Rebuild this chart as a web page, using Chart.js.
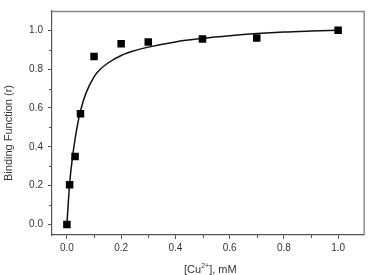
<!DOCTYPE html>
<html>
<head>
<meta charset="utf-8">
<script src="https://cdn.jsdelivr.net/npm/chart.js@4.4.1/dist/chart.umd.min.js"></script>
<style>
  html, body { margin: 0; padding: 0; background: #fff; }
  #wrap { width: 370px; height: 275px; position: relative; }
</style>
</head>
<body>
<div id="wrap"><canvas id="chart"></canvas></div>
<script>
  // ── Data ────────────────────────────────────────────────────────────────
  // Measured points: [Cu2+] (mM) vs binding function r
  const concMM  = [0, 0.01, 0.03, 0.05, 0.1, 0.2, 0.3, 0.5, 0.7, 1.0];
  const bindR   = [0, 0.205, 0.35, 0.57, 0.865, 0.93, 0.94, 0.955, 0.96, 1.0];

  // Fitted curve
  const fitX = [0, 0.005, 0.01, 0.02, 0.03, 0.04, 0.05, 0.07, 0.1, 0.12, 0.15,
                0.2, 0.25, 0.3, 0.4, 0.5, 0.6, 0.7, 0.8, 0.9, 1.0];
  const fitY = [0, 0.11, 0.21, 0.34, 0.44, 0.52, 0.585, 0.675, 0.76, 0.795, 0.83,
                0.87, 0.895, 0.913, 0.94, 0.958, 0.972, 0.983, 0.991, 0.996, 1.0];

  // Axis ticks
  const majorTicks = [0, 0.2, 0.4, 0.6, 0.8, 1.0];
  const minorTicks = [0.1, 0.3, 0.5, 0.7, 0.9];

  const FONT  = 'Liberation Sans, Arial, sans-serif';
  const AXIS  = '#555';
  const FRAME = '#888';
  const TEXT  = '#333';

  // ── Plugin: top/right frame, minor ticks, axis titles ──────────────────
  const decor = {
    id: 'decor',
    afterDraw(chart) {
      const { ctx, chartArea: a, scales } = chart;
      ctx.save();

      // frame (top + right)
      ctx.strokeStyle = FRAME;
      ctx.lineWidth = 1.4;
      ctx.beginPath();
      ctx.moveTo(a.left, a.top + 0.5);
      ctx.lineTo(a.right - 0.5, a.top + 0.5);
      ctx.lineTo(a.right - 0.5, a.bottom);
      ctx.stroke();

      // minor ticks, outward
      ctx.strokeStyle = AXIS;
      ctx.lineWidth = 1;
      ctx.beginPath();
      minorTicks.forEach(v => {
        const px = Math.round(scales.x.getPixelForValue(v)) + 0.5;
        ctx.moveTo(px, a.bottom);
        ctx.lineTo(px, a.bottom + 3);
        const py = Math.round(scales.y.getPixelForValue(v)) + 0.5;
        ctx.moveTo(a.left, py);
        ctx.lineTo(a.left - 3, py);
      });
      ctx.stroke();

      ctx.fillStyle = TEXT;

      // y title
      ctx.save();
      ctx.translate(9, 133);
      ctx.rotate(-Math.PI / 2);
      ctx.font = '11px ' + FONT;
      ctx.textAlign = 'center';
      ctx.textBaseline = 'middle';
      ctx.fillText('Binding Function (r)', 0, 0);
      ctx.restore();

      // x title with superscript: [Cu2+], mM
      const parts = [
        { t: '[Cu', sup: false },
        { t: '2+',  sup: true  },
        { t: '], mM', sup: false },
      ];
      const fontN = '11px ' + FONT;
      const fontS = '7px ' + FONT;
      let total = 0;
      parts.forEach(p => {
        ctx.font = p.sup ? fontS : fontN;
        p.w = ctx.measureText(p.t).width;
        total += p.w;
      });
      let x = (a.left + a.right) / 2 - total / 2 + 2;
      const base = 273;
      ctx.textAlign = 'left';
      ctx.textBaseline = 'alphabetic';
      parts.forEach(p => {
        ctx.font = p.sup ? fontS : fontN;
        ctx.fillText(p.t, x, p.sup ? base - 5 : base);
        x += p.w;
      });

      ctx.restore();
    },
  };

  const tickFont = { family: FONT, size: 10 };

  new Chart(document.getElementById('chart'), {
    type: 'scatter',
    data: {
      datasets: [
        {
          label: 'fit',
          data: fitX.map((x, i) => ({ x, y: fitY[i] })),
          showLine: true,
          borderColor: '#111',
          borderWidth: 1.5,
          pointRadius: 0,
          cubicInterpolationMode: 'monotone',
          order: 2,
        },
        {
          label: 'data',
          data: concMM.map((x, i) => ({ x, y: bindR[i] })),
          pointStyle: 'rect',
          pointRadius: 5.3,
          backgroundColor: '#000',
          borderColor: '#000',
          borderWidth: 0,
          order: 1,
        },
      ],
    },
    options: {
      responsive: true,
      maintainAspectRatio: false,
      animation: false,
      layout: { padding: { top: 5, right: 5, left: 0, bottom: 0 } },
      plugins: {
        legend: { display: false },
        tooltip: { enabled: false },
      },
      scales: {
        x: {
          type: 'linear',
          min: -0.055,
          max: 1.098,
          afterFit: s => { s.height = 40; },
          afterBuildTicks: s => { s.ticks = majorTicks.map(v => ({ value: v })); },
          ticks: {
            font: tickFont,
            color: TEXT,
            padding: 3,
            maxRotation: 0,
            callback: v => v.toFixed(1),
          },
          grid: {
            drawOnChartArea: false,
            drawTicks: true,
            tickLength: 4,
            tickColor: AXIS,
          },
          border: { color: AXIS, width: 1.2 },
        },
        y: {
          type: 'linear',
          min: -0.054,
          max: 1.099,
          afterFit: s => { s.width = 52; },
          afterBuildTicks: s => { s.ticks = majorTicks.map(v => ({ value: v })); },
          ticks: {
            font: tickFont,
            color: TEXT,
            padding: 5,
            callback: v => v.toFixed(1),
          },
          grid: {
            drawOnChartArea: false,
            drawTicks: true,
            tickLength: 4,
            tickColor: AXIS,
          },
          border: { color: AXIS, width: 1.2 },
        },
      },
    },
    plugins: [decor],
  });
</script>
</body>
</html>
